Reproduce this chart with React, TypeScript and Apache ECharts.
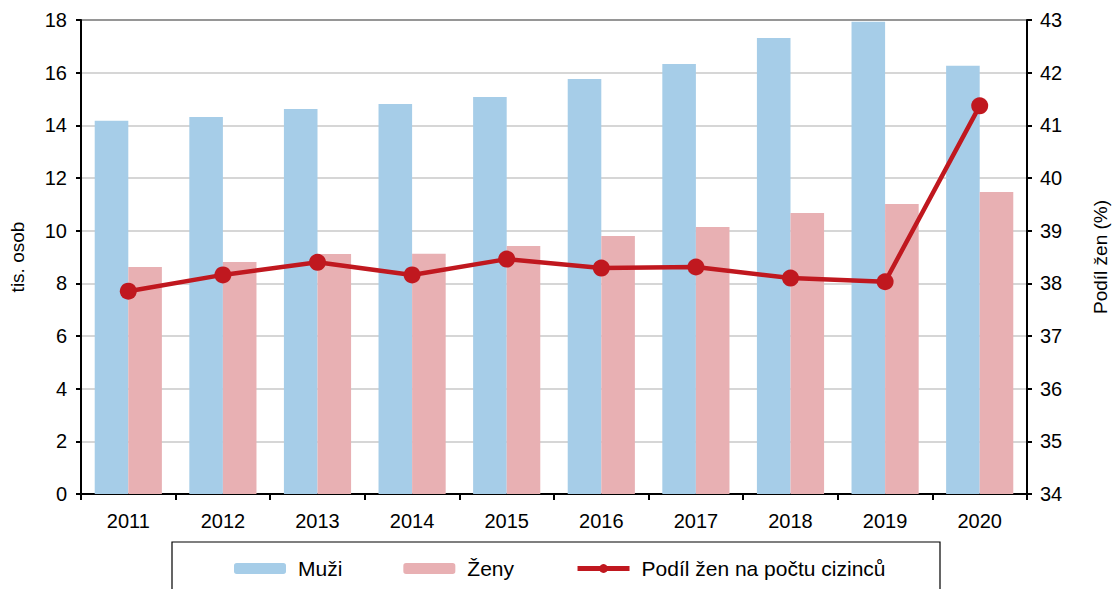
import React, { useEffect, useRef } from "react";
import * as echarts from "echarts";

const years = ["2011", "2012", "2013", "2014", "2015", "2016", "2017", "2018", "2019", "2020"];
const muzi = [14.17, 14.32, 14.62, 14.81, 15.08, 15.76, 16.33, 17.32, 17.93, 16.26];
const zeny = [8.62, 8.81, 9.11, 9.12, 9.42, 9.8, 10.14, 10.67, 11.01, 11.47];
const podil = [37.85, 38.16, 38.4, 38.16, 38.46, 38.29, 38.31, 38.1, 38.03, 41.37];

const FONT = "'Liberation Sans', Arial, sans-serif";

export default function App() {
  const ref = useRef<HTMLDivElement>(null);
  useEffect(() => {
    if (!ref.current) return;
    const chart = echarts.init(ref.current, undefined, { renderer: "svg" });
    chart.setOption({
      animation: false,
      textStyle: { fontFamily: FONT, color: "#000" },
      grid: {
        left: 81,
        right: 83,
        top: 20,
        bottom: 95,
        show: true,
        borderColor: "#000",
        borderWidth: 2,
        backgroundColor: "transparent",
      },
      legend: {
        left: 229,
        top: 553,
        itemWidth: 52,
        itemHeight: 11,
        itemGap: 61,
        lineStyle: { width: 5 },
        textStyle: { fontFamily: FONT, fontSize: 21, color: "#000", padding: [0, 0, 0, 7] },
        data: ["Muži", "Ženy", "Podíl žen na počtu cizinců"],
      },
      graphic: [
        {
          type: "rect",
          shape: { x: 172, y: 542, width: 768, height: 60 },
          style: { fill: "none", stroke: "#000", lineWidth: 1.2 },
          z: 10,
        },
      ],
      xAxis: {
        type: "category",
        data: years,
        axisLine: { lineStyle: { color: "#000", width: 2 } },
        axisTick: { show: true, length: 6, lineStyle: { color: "#000", width: 2 } },
        axisLabel: { fontSize: 20, color: "#000", margin: 17, fontFamily: FONT },
      },
      yAxis: [
        {
          type: "value",
          min: 0,
          max: 18,
          interval: 2,
          name: "tis. osob",
          nameLocation: "middle",
          nameGap: 54,
          nameTextStyle: { fontSize: 19, color: "#000", fontFamily: FONT },
          axisLine: { show: true, lineStyle: { color: "#000", width: 2 } },
          axisTick: { show: true, length: 5, lineStyle: { color: "#000", width: 2 } },
          axisLabel: { fontSize: 20, color: "#000", margin: 14, fontFamily: FONT },
          splitLine: { show: true, lineStyle: { color: "#c8c8c8", width: 1.5 } },
        },
        {
          type: "value",
          min: 34,
          max: 43,
          interval: 1,
          position: "right",
          name: "Podíl žen (%)",
          nameLocation: "middle",
          nameGap: 64,
          nameTextStyle: { fontSize: 19, color: "#000", fontFamily: FONT },
          axisLine: { show: true, lineStyle: { color: "#000", width: 2 } },
          axisTick: { show: true, length: 5, lineStyle: { color: "#000", width: 2 } },
          axisLabel: { fontSize: 20, color: "#000", margin: 13, fontFamily: FONT },
          splitLine: { show: false },
        },
      ],
      series: [
        {
          name: "Muži",
          type: "bar",
          data: muzi,
          barGap: "0%",
          barCategoryGap: "29%",
          itemStyle: { color: "#a6cde8" },
        },
        {
          name: "Ženy",
          type: "bar",
          data: zeny,
          itemStyle: { color: "#e8b0b3" },
        },
        {
          name: "Podíl žen na počtu cizinců",
          type: "line",
          yAxisIndex: 1,
          data: podil,
          symbol: "circle",
          symbolSize: 17,
          lineStyle: { color: "#c0181f", width: 4.5 },
          itemStyle: { color: "#c0181f" },
          z: 5,
        },
      ],
    });
    return () => chart.dispose();
  }, []);
  return <div ref={ref} style={{ width: 1118, height: 589, position: "absolute", left: 0, top: 0 }} />;
}
